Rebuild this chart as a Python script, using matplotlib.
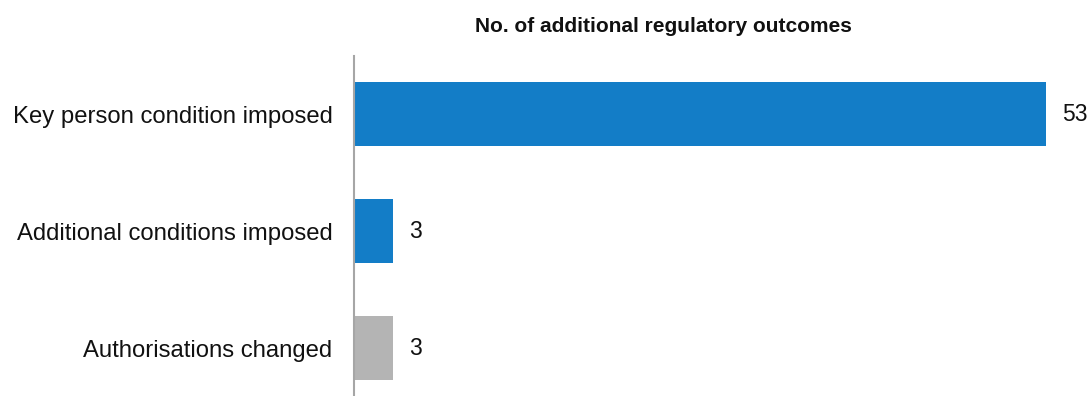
import matplotlib
matplotlib.use("Agg")
import matplotlib.pyplot as plt

categories = ["Key person condition imposed", "Additional conditions imposed", "Authorisations changed"]
values = [53, 3, 3]
colors = ["#137DC7", "#137DC7", "#B4B4B4"]
title = "No. of additional regulatory outcomes"

plt.rcParams['font.family'] = ['Liberation Sans', 'DejaVu Sans']

W, H = 1091, 396
fig = plt.figure(figsize=(W/100, H/100), dpi=100)
ax = fig.add_axes([354/W, 0, (1046-354)/W, 1 - 56/H])

ypos = list(range(len(categories)))
ax.barh(ypos, values, height=0.55, color=colors)
ax.set_xlim(0, 53)
ax.set_ylim(2.41, -0.496)

for y, v in zip(ypos, values):
    ax.text(v + 1.2, y, str(v), va='center', ha='left', fontsize=16.5, color='#111111')

ax.set_yticks(ypos)
ax.set_yticklabels(categories, fontsize=17.2, color='#111111')
ax.tick_params(axis='y', length=0, pad=15.5)
ax.set_xticks([])
for s in ['top', 'right', 'bottom']:
    ax.spines[s].set_visible(False)
ax.spines['left'].set_color('#A6A6A6')
ax.spines['left'].set_linewidth(1.5)

fig.text(663/W, 1 - 27/H, title, ha='center', va='center', fontsize=15, fontweight='bold', color='#111111')

fig.savefig("out.png", dpi=100)
